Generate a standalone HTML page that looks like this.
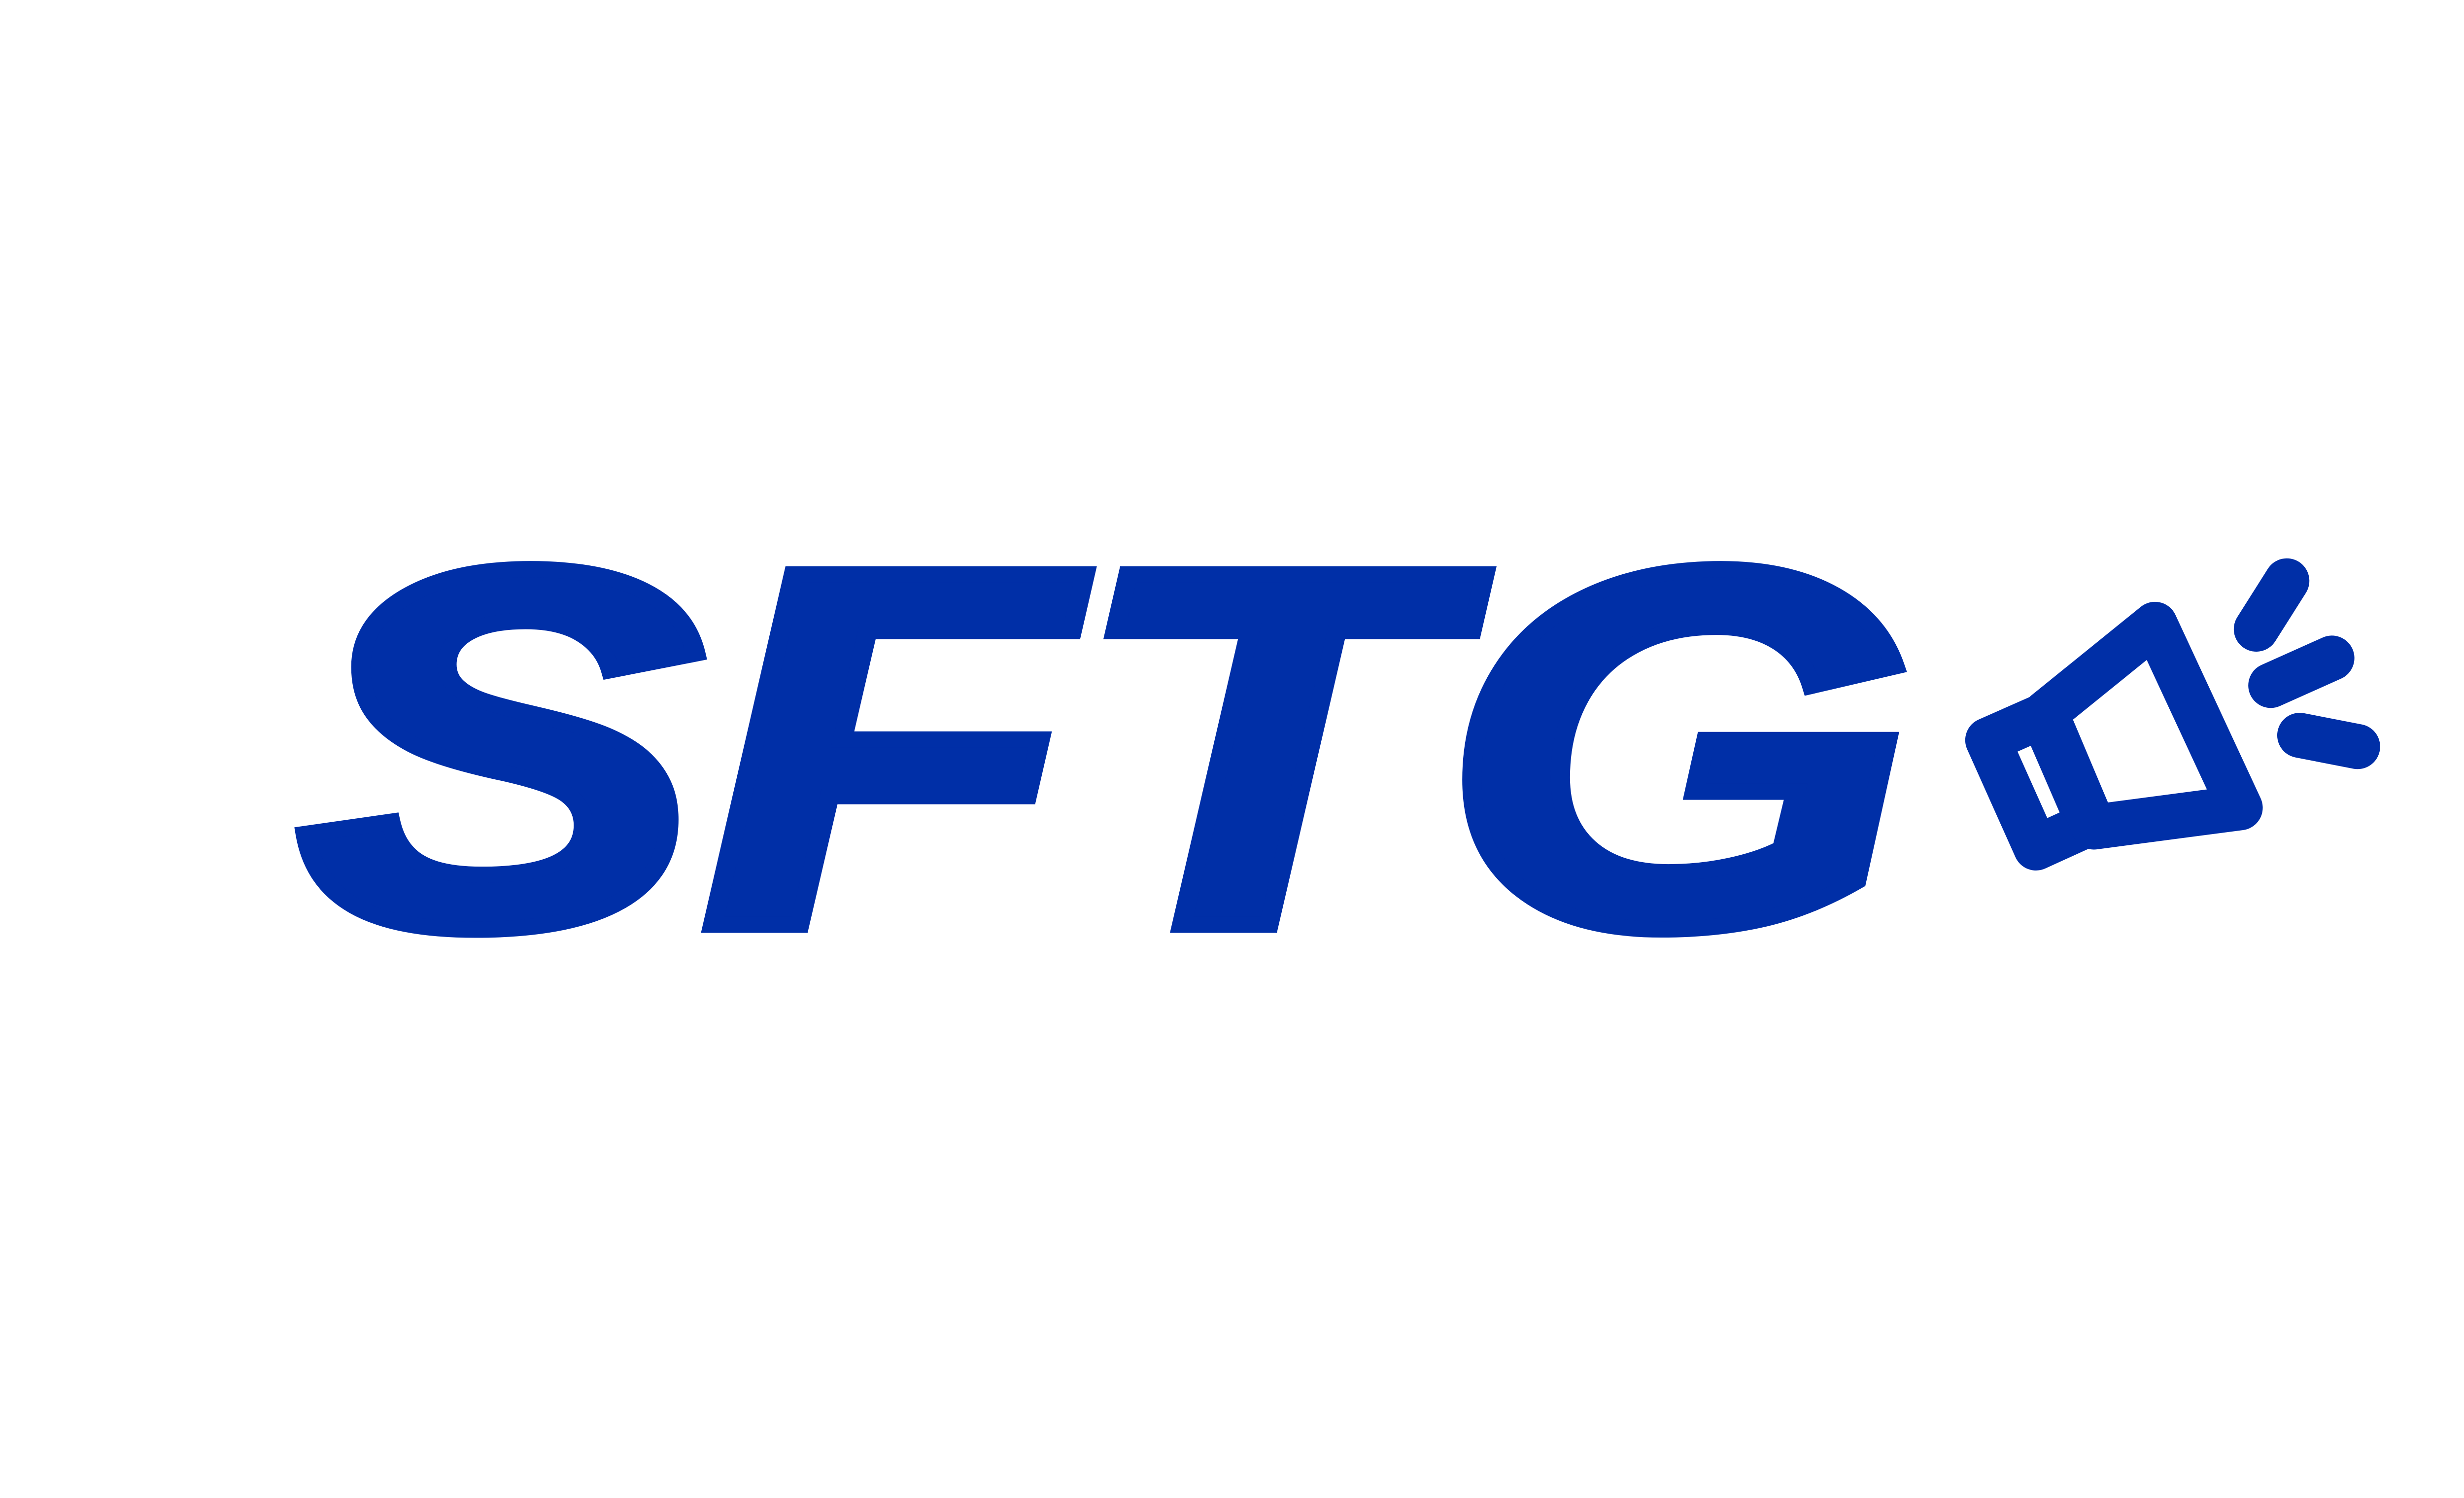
<!DOCTYPE html>
<html>
<head>
<meta charset="utf-8">
<style>
  html,body{margin:0;padding:0;background:#ffffff;}
  svg{display:block;}
</style>
</head>
<body>
<svg width="5117" height="3039" viewBox="0 0 1568 931" preserveAspectRatio="none" xmlns="http://www.w3.org/2000/svg">
  <rect x="0" y="0" width="1568" height="931" fill="#ffffff"/>
  <g transform="translate(-50,-20) scale(1.2,1.008)">
    <text x="196" y="590" font-family="Liberation Sans, sans-serif" font-weight="bold" font-style="italic" font-size="314" fill="#002FA7" stroke="#002FA7" stroke-width="10" stroke-linejoin="miter">SFTG</text>
  </g>
  <g fill="none" stroke="#002FA7" stroke-width="28" stroke-linejoin="round" stroke-linecap="round">
    <path d="M1236,460 L1270,445 L1299,512 L1266,527 Z"/>
    <path d="M1272,443 L1340,388 L1393,502 L1302,514 Z"/>
    <line x1="1403" y1="391" x2="1422" y2="361"/>
    <line x1="1412" y1="426" x2="1450" y2="409"/>
    <line x1="1430" y1="457" x2="1466" y2="464"/>
  </g>
</svg>
</body>
</html>
